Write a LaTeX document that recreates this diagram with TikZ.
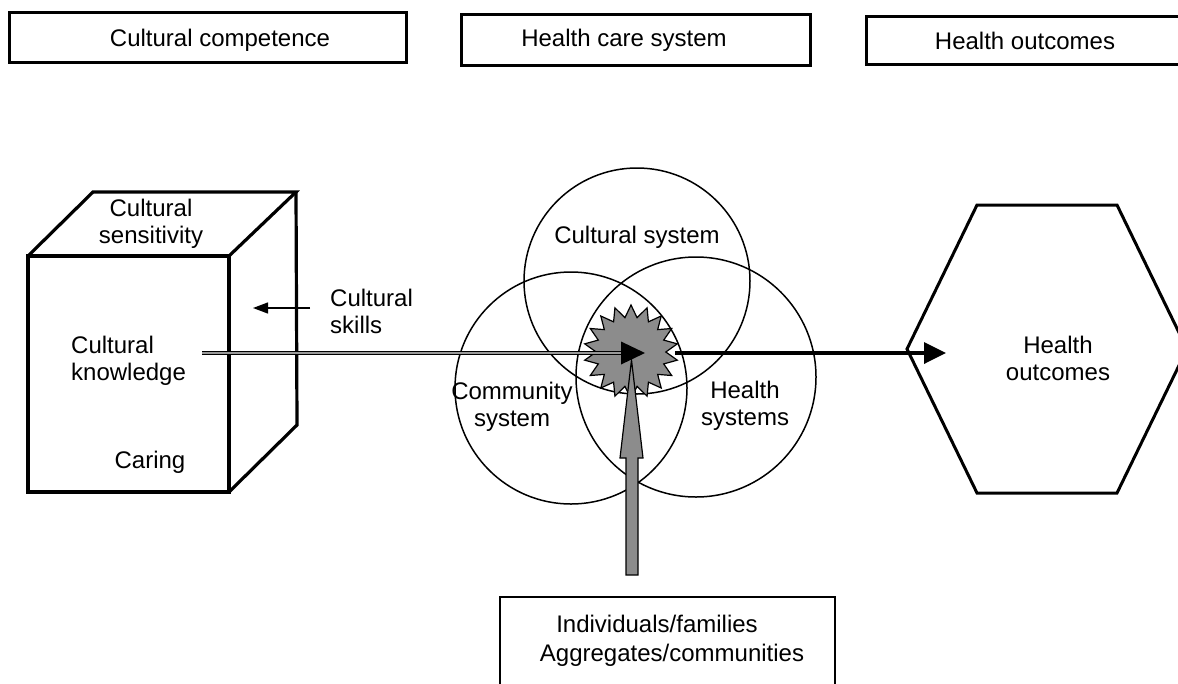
\documentclass[tikz,border=0pt]{standalone}
\usepackage{fontspec}
\setmainfont{Liberation Sans}
\usetikzlibrary{arrows.meta,shapes.geometric}
\begin{document}
\begin{tikzpicture}[x=1pt,y=-1pt,
  lbl/.style={font=\fontsize{24}{27}\selectfont, inner sep=0pt, align=center},
  topbox/.style={draw, line width=3pt, inner sep=0pt},
  cube/.style={line width=3.2pt, line join=miter},
  venn/.style={draw, circle, line width=1.5pt, inner sep=0pt},
  grayfill/.style={fill=black!45, draw=black, line width=1.2pt},
  thickarrow/.style={line width=3.5pt, -{Triangle[length=22pt,width=21pt]}},
  thinarrow/.style={line width=1.3pt, -{Triangle[length=15pt,width=11pt]}},
  dbl/.style={line width=0.9pt, double=black!40, double distance=1.6pt}]
\clip (0,0) rectangle (1178,683);
\useasboundingbox (0,0) rectangle (1178,683);

% top boxes
\node[topbox, minimum width=397pt, minimum height=50pt] (b1) at (207.5,37) {};
\node[lbl] (t1) at (220,40) {Cultural competence};
\node[topbox, minimum width=349pt, minimum height=51pt] (b2) at (635.5,39.5) {};
\node[lbl] (t2) at (624,40) {Health care system};
\draw[line width=3pt] (1190,16) -- (866,16) -- (866,64) -- (1190,64);
\node[lbl] (t3) at (1025,41) {Health outcomes};

% cube
\draw[cube] (28,256) rectangle (229,492);
\draw[cube] (28,256) -- (93,192) -- (296,192) -- (229,256);
\draw[cube] (296,192) -- (297,425) -- (229,492);
\node[lbl] (sens) at (151,224) {Cultural\\sensitivity};
\node[lbl, align=left, anchor=west] (know) at (71,361) {Cultural\\knowledge};
\node[lbl] (car) at (150,462) {Caring};
\node[lbl, align=left, anchor=west] (skills) at (330,311) {Cultural\\skills};
\coordinate (skillsend) at (253,308);
\draw[thinarrow] (skills.west |- skillsend) ++(-20,0) -- (skillsend);

% venn circles
\node[venn, minimum size=226pt] (cs) at (637,281) {};
\node[venn, minimum size=232pt] (com) at (571,388) {};
\node[venn, minimum size=240pt] (hs) at (696,377) {};
\node[lbl] (cst) at (637,237) {Cultural system};
\node[lbl] (comt) at (512,407) {Community\\system};
\node[lbl] (hst) at (745,406) {Health\\systems};

% hexagon
\draw[line width=3pt, line join=miter] (907,349) -- (977,205) -- (1117,205) -- (1187,349) -- (1117,493) -- (977,493) -- cycle;
\coordinate (hexin) at (946,353);
\node[lbl] (hot) at (1058,358) {Health\\outcomes};

% starburst
\node[star, star points=18, star point ratio=1.35, minimum size=94pt, inner sep=0pt, grayfill] (burst) at (631,352) {};

% upward arrow
\draw[grayfill, line join=miter] (626,575) -- (626,458) -- (620,458) -- (631.5,360) -- (643,458) -- (638,458) -- (638,575) -- cycle;

% double line from knowledge to burst
\coordinate (kstart) at (202,353);
\coordinate (tribase) at (621,353);
\draw[dbl] (kstart) -- (tribase);
\fill (621,341.5) -- (645,353) -- (621,364.5) -- cycle;

% thick arrow to outcomes
\coordinate (bursteast) at (675,353);
\draw[thickarrow] (bursteast) -- (hexin);

% bottom box
\draw[line width=2.5pt] (500,690) -- (500,597) -- (835,597) -- (835,690);
\node[lbl] (ind) at (657,624) {Individuals/families};
\node[lbl] (agg) at (672,655) {Aggregates/communities};
\end{tikzpicture}
\end{document}
